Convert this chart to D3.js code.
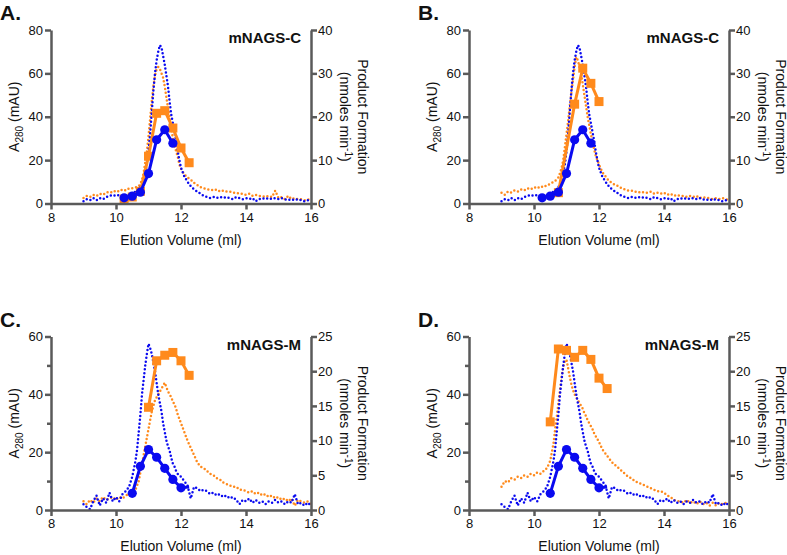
<!DOCTYPE html>
<html>
<head>
<meta charset="utf-8">
<script src="https://cdn.jsdelivr.net/npm/d3@7"></script>
<style>
  body { margin: 0; background: #fff; }
  svg text { font-family: Arial, "Liberation Sans", sans-serif; fill: #111; }
</style>
</head>
<body>
<svg id="chart" width="787" height="555"></svg>
<script>
// elution volume (ml) grid of the A280 traces
const volume = [9.0,9.1,9.2,9.3,9.4,9.5,9.6,9.7,9.8,9.9,10.0,10.1,10.2,10.3,10.4,10.5,10.6,
  10.65,10.7,10.75,10.8,10.85,10.9,10.95,11.0,11.05,11.1,11.15,11.2,11.25,11.3,11.35,11.4,11.45,11.5,11.55,11.6,11.65,11.7,11.75,11.8,11.85,11.9,11.95,12.0,
  12.1,12.2,12.3,12.4,12.5,12.6,12.7,12.8,12.9,13.0,13.1,13.2,13.3,13.4,13.5,13.6,13.7,13.8,13.9,14.0,14.1,14.2,14.3,14.4,14.5,14.6,14.7,14.8,14.9,15.0,15.1,15.2,15.3,15.4,15.5,15.6,15.7,15.8,15.9,16.0];

// A280 (mAU), mNAGS-C runs (panels A, B)
const a280BlueC = [1,2,1.5,2.5,1.5,2.5,2,3,3.5,4,3.5,4,3,2.5,3.5,4.5,5.5,
  6,6.5,7.5,9,11,14,18,24,32,42,52,60,66,70,73,72,68,64,59,54,47,41,37,33,29,24,20,16.5,
  12.5,10,8,6.5,5.5,4.5,3.5,3,2.5,3,2.5,3,2.5,3,2.5,2,3,2.5,2,2.5,2,2.5,1,2,2.5,2,2.5,2,2.5,2,2.5,2,1.5,2,1.5,2,1.5,1,1.5,1];
const a280OrangeA = [2.5,3.5,3,4,3.5,4.5,4,5,5.5,5,6,5.5,6.5,6,7,7,7.5,
  7.5,8,9,11,14,19,24,31,39,47,54,59,62,63,62,60,58,54,49,44,40,35,30,27,24,21.5,18,16,
  13.5,12,11,9.5,8.5,7.5,7,6.5,6.5,6,6.5,5.5,6,5.5,5.5,5,5,4.5,4.5,4,4.5,3.5,4,3.5,3.5,3,3.5,3,6,2.5,3,2,3.5,2,2.5,2,2,1.5,2,1.5];
const a280OrangeB = [5,4,5.5,5,6,5.5,6.5,6,7,6.5,7.5,7,8,7.5,8.5,9,10,
  10.5,11,12,14,16.5,20,26,32,38,45,51,57,63,67.5,66,63,60,55,50,45,40,36,32,28.5,25,22,20,18,
  14.5,12.5,10.5,9.5,8.5,8,7,6.5,6,6,5.5,5,5.5,5,5,5.5,4.5,5,4.5,5,4,4.5,3.5,4,3.5,3.5,3,3.5,3,3.5,2.5,3,2.5,2.5,2,2.5,2,2.5,2,1.5];

// A280 (mAU), mNAGS-M runs (panels C, D)
const a280BlueM = [2,1,0.3,3,5,1.5,4,2.5,6,3,4.5,3,5.5,6.5,8,11.5,17,
  21,27,33,40,45,50,54,57.5,56,54,51,48,44,40,37,34,30,27,24,22,20.5,18,16,15,13.5,12.5,12,11.5,
  10,8.5,4,8,7.5,6.5,7,6.5,5.5,6,5,5.5,4.5,5,4,4.5,3.5,2,3.5,3,4,2.5,3.5,2.5,3,2,3,2.5,3.5,2.5,3,2,3,2.5,5.5,2,2.5,1.5,2.5,1.5];
const a280OrangeC = [3,2,3.5,2.5,4,3,4.5,3.5,4,4.5,3.5,4.5,4,5,5.5,6,7,
  8.5,10,13,16,19,22,25,28,31,34,36,38,39,40,41,42,43,44,42.5,41,40,39,37.5,36.5,35,33,31.5,30,
  27,24,21.5,19,16.5,15,14.5,13.5,12.5,12,11,10.5,9.5,9,8.5,8,8,7,7,6.5,6,6.5,5.5,6,5,5.5,4.5,5,4,4.5,3.5,4,3,4,1.5,3.5,3,2.5,3,2];
const a280OrangeD = [8,10,9.5,11,10.5,11.5,11,12,11.5,12.5,12,13,12.5,13.5,14.5,17,23,
  28,32,37,41.5,46,49.5,51.5,52,49,46,43.5,41.5,40,39,38,37,36,35,33.5,32.5,31,30,29,28,26.5,25.5,24.5,23.5,
  21,19.5,18,16.5,15.5,14.5,13.5,12.5,11.5,11,10,9.5,9,8.5,8,7.5,7,6.5,6.5,6,5,4.5,3.5,3,3,2.5,3.5,2.5,3,2,3,2,2.5,1.5,2.5,1.5,2.5,2,2.5,2];

// product formation (nmoles min-1) per fraction
const fracBlueC = [10.25,10.5,10.75,11,11.25,11.5,11.75];
const prodBlueC = [1.3,1.7,2.6,6.9,14.7,17,13.9];
const fracOrangeA = [10.25,10.5,10.75,11,11.25,11.5,11.75,12,12.25];
const prodOrangeA = [1.0,1.5,2.8,10.9,20.8,21.4,17.4,12.8,9.4];
const fracOrangeB = [10.75,11.25,11.5,11.75,12];
const prodOrangeB = [2.5,22.9,31.2,27.7,23.5];
const fracBlueM = [10.5,10.75,11,11.25,11.5,11.75,12,12.25];
const prodBlueM = [2.4,6.3,8.7,7.6,6.0,4.4,3.2,3.3];
const fracOrangeC = [11,11.25,11.5,11.75,12,12.25];
const prodOrangeC = [14.8,21.5,22.3,22.7,21.5,19.4];
const fracOrangeD = [10.5,10.75,11,11.25,11.5,11.75,12,12.25];
const prodOrangeD = [12.7,23.2,23.0,22.0,23.0,21.7,19.0,17.5];

const xTicks = [8,10,12,14,16];
const BLUE = "#0a0af0", ORANGE = "#ff8a1c", AXIS = "#5a5a5a";

const svg = d3.select("#chart");
const zip = (xs, ys) => xs.map((v, i) => [v, ys[i]]);

const panels = [
  { label: "A.", title: "mNAGS-C", left: 51, top: 30, yMax: 80, yTicks: [0,20,40,60,80], yMinor: [], y2Max: 40, y2Ticks: [0,10,20,30,40],
    blueTrace: a280BlueC, orangeTrace: a280OrangeA, blueAct: zip(fracBlueC, prodBlueC), orangeAct: zip(fracOrangeA, prodOrangeA), blueMarks: 7 },
  { label: "B.", title: "mNAGS-C", left: 469, top: 30, yMax: 80, yTicks: [0,20,40,60,80], yMinor: [], y2Max: 40, y2Ticks: [0,10,20,30,40],
    blueTrace: a280BlueC, orangeTrace: a280OrangeB, blueAct: zip(fracBlueC, prodBlueC), orangeAct: zip(fracOrangeB, prodOrangeB), blueMarks: 7 },
  { label: "C.", title: "mNAGS-M", left: 51, top: 336.5, yMax: 60, yTicks: [0,20,40,60], yMinor: [10,30,50], y2Max: 25, y2Ticks: [0,5,10,15,20,25],
    blueTrace: a280BlueM, orangeTrace: a280OrangeC, blueAct: zip(fracBlueM, prodBlueM), orangeAct: zip(fracOrangeC, prodOrangeC), blueMarks: 7 },
  { label: "D.", title: "mNAGS-M", left: 469, top: 336.5, yMax: 60, yTicks: [0,20,40,60], yMinor: [10,30,50], y2Max: 25, y2Ticks: [0,5,10,15,20,25],
    blueTrace: a280BlueM, orangeTrace: a280OrangeD, blueAct: zip(fracBlueM, prodBlueM), orangeAct: zip(fracOrangeD, prodOrangeD), blueMarks: 7 }
];

const W = 260, H = 173.5;

function styleAxis(g) {
  g.select(".domain").attr("stroke", AXIS).attr("stroke-width", 2.5);
  g.selectAll(".tick line").attr("stroke", AXIS).attr("stroke-width", 2.5);
  g.selectAll(".tick text").attr("font-size", 13).attr("fill", "#111");
}

function drawPanel(p) {
  const right = p.left + W, bottom = p.top + H;
  const x = d3.scaleLinear().domain([8, 16]).range([p.left, right]);
  const y = d3.scaleLinear().domain([0, p.yMax]).range([bottom, p.top]);
  const y2 = d3.scaleLinear().domain([0, p.y2Max]).range([bottom, p.top]);

  const g = svg.append("g");

  // dotted A280 traces
  const trace = d3.line().x(d => x(d[0])).y(d => y(d[1]));
  [[p.orangeTrace, ORANGE], [p.blueTrace, BLUE]].forEach(([vals, col]) => {
    g.append("path").datum(zip(volume, vals))
      .attr("d", trace).attr("fill", "none").attr("stroke", col)
      .attr("stroke-width", 2.5).attr("stroke-linecap", "round").attr("stroke-dasharray", "0,3.9");
  });

  // activity lines
  const act = d3.line().x(d => x(d[0])).y(d => y2(d[1]));
  g.append("path").datum(p.orangeAct).attr("d", act)
    .attr("fill", "none").attr("stroke", ORANGE).attr("stroke-width", 3);
  g.selectAll(".sq").data(p.orangeAct).join("rect")
    .attr("x", d => x(d[0]) - 4.5).attr("y", d => y2(d[1]) - 4.5)
    .attr("width", 9).attr("height", 9).attr("fill", ORANGE);
  g.append("path").datum(p.blueAct).attr("d", act)
    .attr("fill", "none").attr("stroke", BLUE).attr("stroke-width", 3);
  g.selectAll(".dot").data(p.blueAct.slice(0, p.blueMarks)).join("circle")
    .attr("cx", d => x(d[0])).attr("cy", d => y2(d[1])).attr("r", 4.6).attr("fill", BLUE);

  // axes
  const xAxis = g.append("g").attr("transform", `translate(0,${bottom})`)
    .call(d3.axisBottom(x).tickValues(xTicks).tickSize(6).tickSizeOuter(0).tickPadding(3));
  styleAxis(xAxis);

  const yAxis = g.append("g").attr("transform", `translate(${p.left},0)`)
    .call(d3.axisLeft(y).tickValues(p.yTicks).tickSize(6).tickSizeOuter(0).tickPadding(2));
  styleAxis(yAxis);
  if (p.yMinor.length) {
    const minor = g.append("g").attr("transform", `translate(${p.left},0)`)
      .call(d3.axisLeft(y).tickValues(p.yMinor).tickSize(4).tickFormat(""));
    minor.select(".domain").remove();
    minor.selectAll(".tick line").attr("stroke", AXIS).attr("stroke-width", 2.5);
  }

  const y2Axis = g.append("g").attr("transform", `translate(${right},0)`)
    .call(d3.axisRight(y2).tickValues(p.y2Ticks).tickSize(6).tickSizeOuter(0).tickPadding(1));
  styleAxis(y2Axis);

  // labels
  g.append("text").attr("x", p.left - 51).attr("y", p.top - 10)
    .attr("font-size", 21).attr("font-weight", "bold").attr("fill", "#000").text(p.label);

  g.append("text").attr("x", right - 10).attr("y", p.top + 13)
    .attr("text-anchor", "end").attr("font-size", 15).attr("font-weight", "bold").attr("fill", "#333")
    .text(p.title);

  g.append("text").attr("x", (p.left + right) / 2).attr("y", bottom + 41)
    .attr("text-anchor", "middle").attr("font-size", 14).text("Elution Volume (ml)");

  const yl = g.append("text")
    .attr("transform", `translate(${p.left - 32},${(p.top + bottom) / 2}) rotate(-90)`)
    .attr("text-anchor", "middle").attr("font-size", 14);
  yl.append("tspan").text("A");
  yl.append("tspan").attr("font-size", 10).attr("dy", 4).text("280");
  yl.append("tspan").attr("dy", -4).text(" (mAU)");

  const rl = g.append("g")
    .attr("transform", `translate(${right + 47},${(p.top + bottom) / 2}) rotate(90)`);
  rl.append("text").attr("text-anchor", "middle").attr("font-size", 14).text("Product Formation");
  const r2 = rl.append("text").attr("text-anchor", "middle").attr("font-size", 14).attr("y", 18);
  r2.append("tspan").text("(nmoles min");
  r2.append("tspan").attr("font-size", 10).attr("dy", -5).text("-1");
  r2.append("tspan").attr("dy", 5).text(")");
}

panels.forEach(drawPanel);
</script>
</body>
</html>
